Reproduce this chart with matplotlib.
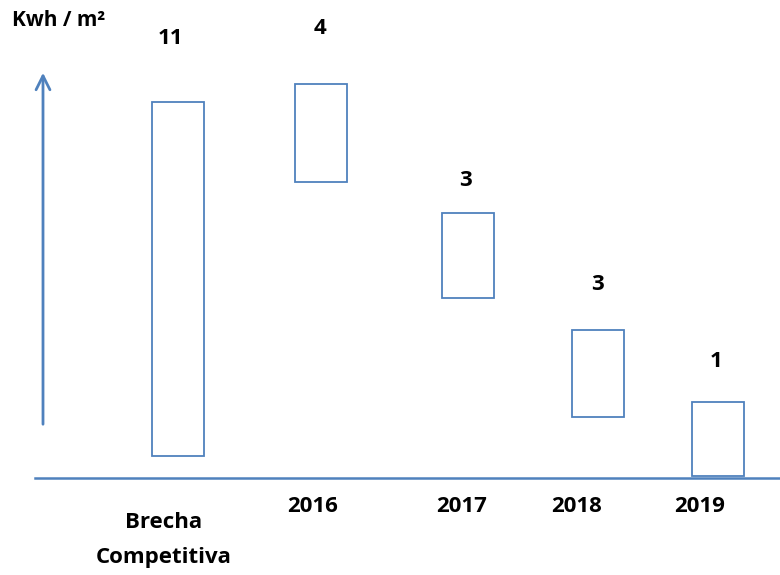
import matplotlib.pyplot as plt

# Datos (escala: 0 = linea base)
categorias = ["Brecha\nCompetitiva", "2016", "2017", "2018", "2019"]
valores = ["11", "4", "3", "3", "1"]
base = [0.69, 9.25, 5.63, 1.91, 0.06]
tope = [11.75, 12.31, 8.28, 4.63, 2.38]

# posicion (x) de cada caja, etiqueta y valor
x_caja = [177.5, 321, 468, 598, 718]
x_etiq = [164, 313, 462, 577, 700]
x_valor = [170, 320, 465, 598, 716]
y_valor = [13.75, 14.06, 9.31, 6.06, 3.63]

azul = "#4F81BD"
fuente = "Open Sans"

fig = plt.figure(figsize=(7.8, 5.75), dpi=100)
ax = fig.add_axes([0, 0, 1, 1])
ax.set_xlim(0, 780)
ax.set_ylim(-97 / 32, 478 / 32)
ax.axis("off")

# cajas vacias
alturas = [t - b for t, b in zip(tope, base)]
ax.bar(x_caja, alturas, bottom=base, width=52, facecolor="none",
       edgecolor=azul, linewidth=1.3)

# linea base
ax.plot([35, 780], [0, 0], color=azul, linewidth=1.8)

# flecha vertical
ax.annotate("", xy=(43, (478 - 70) / 32), xytext=(43, (478 - 427) / 32),
            arrowprops=dict(arrowstyle="->,head_width=0.5,head_length=1.0",
                            color=azul, linewidth=2))

# valores sobre las cajas
for xv, yv, v in zip(x_valor, y_valor, valores):
    ax.text(xv, yv, v, ha="center", va="center", fontsize=16,
            fontweight="bold", family=fuente)

# etiquetas de categorias
for xe, c in zip(x_etiq, categorias):
    if "\n" in c:
        ax.text(xe, (478 - 540) / 32, c, ha="center", va="center",
                fontsize=16, fontweight="bold", family=fuente, linespacing=1.85)
    else:
        ax.text(xe, (478 - 507) / 32, c, ha="center", va="center",
                fontsize=16, fontweight="bold", family=fuente)

ax.text(12, (478 - 20) / 32, "Kwh / m²", ha="left", va="center",
        fontsize=15, fontweight="bold", family=fuente)

fig.savefig("out.png", dpi=100)
